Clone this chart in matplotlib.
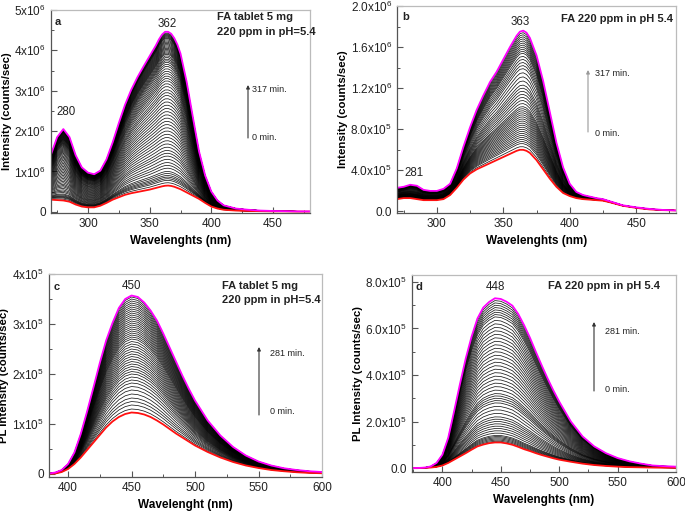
import numpy as np
import matplotlib
matplotlib.use("Agg")
import matplotlib.pyplot as plt
from matplotlib.ticker import MultipleLocator
from matplotlib.patches import FancyArrowPatch

plt.rcParams['font.family'] = ['Liberation Sans', 'DejaVu Sans']
plt.rcParams['mathtext.fontset'] = 'custom'
plt.rcParams['mathtext.rm'] = 'Liberation Sans'
plt.rcParams['mathtext.bf'] = 'Liberation Sans:bold'
plt.rcParams['mathtext.default'] = 'regular'

# ---------------- Panel a (tablet) ----------------
wl_a = [270, 275, 280, 285, 290, 295, 300, 305, 310, 315, 320, 325, 330, 335, 340, 345,
        350, 355, 357.5, 360, 362.5, 365, 367.5, 370, 372.5, 375, 380, 385, 390, 395, 400,
        405, 410, 420, 430, 440, 450, 460, 470, 480]
red_a = [0.30, 0.29, 0.28, 0.25, 0.18, 0.13, 0.11, 0.11, 0.15, 0.22, 0.30, 0.36, 0.42, 0.46,
         0.49, 0.52, 0.55, 0.59, 0.61, 0.63, 0.645, 0.65, 0.64, 0.62, 0.59, 0.56, 0.48, 0.40,
         0.32, 0.22, 0.13, 0.08, 0.05, 0.03, 0.02, 0.015, 0.01, 0.01, 0.005, 0.005]
mag_a = [1.42, 1.85, 2.05, 1.85, 1.40, 1.10, 0.97, 0.93, 1.02, 1.30, 1.72, 2.20, 2.65, 3.02,
         3.33, 3.60, 3.86, 4.12, 4.27, 4.39, 4.46, 4.46, 4.41, 4.30, 4.14, 3.92, 3.22, 2.35,
         1.50, 0.90, 0.50, 0.28, 0.16, 0.08, 0.05, 0.03, 0.02, 0.015, 0.01, 0.01]
peaks_a = [0.65, 0.72, 0.78, 0.82, 0.86, 0.90, 0.95, 1.00, 1.08, 1.15, 1.22, 1.30, 1.38, 1.45,
           1.52, 1.60, 1.68, 1.76, 1.84, 1.92, 2.00, 2.08, 2.16, 2.24, 2.32, 2.40, 2.48, 2.56,
           2.64, 2.72, 2.80, 2.88, 2.95, 3.02, 3.10, 3.17, 3.24, 3.30, 3.36, 3.42, 3.48, 3.54,
           3.60, 3.65, 3.70, 3.74, 3.78, 3.82, 3.86, 3.90, 3.93, 3.96, 3.99, 4.02, 4.05, 4.08,
           4.11, 4.14, 4.17, 4.20, 4.23, 4.26, 4.29, 4.31, 4.33, 4.35, 4.37, 4.39, 4.41, 4.43,
           4.46]
yticks_a = [0, 1e6, 2e6, 3e6, 4e6, 5e6]
ylabels_a = ['0', '1x10$^{6}$', '2x10$^{6}$', '3x10$^{6}$', '4x10$^{6}$', '5x10$^{6}$']

# ---------------- Panel b ----------------
wl_b = [270, 275, 280, 285, 290, 295, 300, 305, 310, 315, 320, 325, 330, 335, 340, 345,
        350, 355, 360, 362.5, 365, 367.5, 370, 375, 380, 385, 390, 395, 400, 405, 410, 420,
        425, 430, 440, 450, 460, 470, 480]
red_b = [0.12, 0.13, 0.13, 0.12, 0.11, 0.11, 0.11, 0.12, 0.16, 0.23, 0.31, 0.37, 0.41, 0.44,
         0.47, 0.50, 0.53, 0.56, 0.59, 0.60, 0.60, 0.59, 0.57, 0.50, 0.41, 0.32, 0.24, 0.18,
         0.15, 0.13, 0.12, 0.11, 0.105, 0.09, 0.055, 0.035, 0.02, 0.013, 0.01]
mag_b = [0.23, 0.24, 0.26, 0.25, 0.21, 0.20, 0.20, 0.22, 0.27, 0.42, 0.63, 0.82, 0.99, 1.13,
         1.26, 1.36, 1.48, 1.60, 1.71, 1.75, 1.76, 1.74, 1.69, 1.52, 1.27, 0.97, 0.67, 0.43,
         0.27, 0.19, 0.16, 0.13, 0.12, 0.10, 0.06, 0.04, 0.025, 0.015, 0.01]
peaks_b = [0.60, 0.63, 0.66, 0.68, 0.70, 0.72, 0.74, 0.76, 0.78, 0.80, 0.82, 0.84, 0.86, 0.88,
           0.90, 0.92, 0.94, 0.96, 0.98, 1.00, 1.02, 1.05, 1.08, 1.11, 1.14, 1.17, 1.20, 1.23,
           1.27, 1.31, 1.35, 1.39, 1.42, 1.45, 1.48, 1.51, 1.54, 1.56, 1.58, 1.60, 1.62, 1.64,
           1.66, 1.68, 1.70, 1.72, 1.74, 1.76]
yticks_b = [0, 0.4e6, 0.8e6, 1.2e6, 1.6e6, 2.0e6]
ylabels_b = ['0.0', '4.0x10$^{5}$', '8.0x10$^{5}$', '1.2x10$^{6}$', '1.6x10$^{6}$', '2.0x10$^{6}$']

# ---------------- Panel c (PL, tablet) ----------------
wl_c = [385, 390, 395, 400, 405, 410, 415, 420, 425, 430, 435, 440, 445, 450, 455, 460, 465,
        470, 475, 480, 485, 490, 495, 500, 510, 520, 530, 540, 550, 560, 570, 580, 590, 600]
red_c = [0.005, 0.01, 0.04, 0.10, 0.20, 0.33, 0.48, 0.63, 0.78, 0.93, 1.05, 1.14, 1.20, 1.23,
         1.22, 1.19, 1.14, 1.07, 0.99, 0.90, 0.81, 0.73, 0.65, 0.57, 0.44, 0.33, 0.24, 0.17,
         0.12, 0.08, 0.055, 0.035, 0.022, 0.015]
mag_c = [0.01, 0.03, 0.08, 0.20, 0.43, 0.80, 1.25, 1.73, 2.22, 2.67, 3.02, 3.32, 3.50, 3.57,
         3.54, 3.43, 3.27, 3.07, 2.81, 2.53, 2.25, 1.97, 1.71, 1.47, 1.07, 0.77, 0.54, 0.37,
         0.25, 0.17, 0.115, 0.08, 0.055, 0.04]
peaks_c = [1.23, 1.30, 1.38, 1.45, 1.52, 1.60, 1.68, 1.75, 1.82, 1.88, 1.94, 2.00, 2.05, 2.10,
           2.15, 2.20, 2.25, 2.30, 2.35, 2.40, 2.45, 2.50, 2.55, 2.60, 2.65, 2.70, 2.74, 2.78,
           2.82, 2.86, 2.90, 2.94, 2.98, 3.02, 3.06, 3.10, 3.14, 3.18, 3.22, 3.26, 3.30, 3.34,
           3.38, 3.42, 3.46, 3.50, 3.54, 3.57]
yticks_c = [0, 1e5, 2e5, 3e5, 4e5]
ylabels_c = ['0', '1x10$^{5}$', '2x10$^{5}$', '3x10$^{5}$', '4x10$^{5}$']

# ---------------- Panel d (PL) ----------------
wl_d = [375, 380, 385, 390, 395, 400, 405, 410, 415, 420, 425, 430, 435, 440, 445, 450, 455,
        460, 465, 470, 475, 480, 485, 490, 495, 500, 510, 520, 530, 540, 550, 560, 570, 580,
        590, 600]
red_d = [0.0, 0.0, 0.01, 0.02, 0.05, 0.11, 0.22, 0.36, 0.50, 0.64, 0.79, 0.93, 1.01, 1.07,
         1.10, 1.10, 1.06, 1.00, 0.91, 0.81, 0.73, 0.64, 0.56, 0.49, 0.42, 0.36, 0.27, 0.19,
         0.13, 0.09, 0.06, 0.04, 0.03, 0.02, 0.015, 0.01]
mag_d = [0.0, 0.005, 0.02, 0.07, 0.22, 0.57, 1.30, 2.43, 3.60, 4.71, 5.65, 6.43, 6.90, 7.14,
         7.30, 7.27, 7.15, 6.98, 6.62, 6.14, 5.60, 5.00, 4.42, 3.86, 3.34, 2.86, 2.00, 1.36,
         0.93, 0.64, 0.43, 0.29, 0.19, 0.11, 0.08, 0.06]
peaks_d = [1.10, 1.15, 1.20, 1.25, 1.30, 1.35, 1.40, 1.50, 1.60, 1.70, 1.80, 1.90, 2.00, 2.10,
           2.20, 2.35, 2.50, 2.65, 2.80, 2.90, 3.00, 3.10, 3.20, 3.35, 3.50, 3.65, 3.80, 3.95,
           4.10, 4.25, 4.40, 4.55, 4.70, 4.85, 5.00, 5.15, 5.30, 5.45, 5.60, 5.75, 5.90, 6.05,
           6.20, 6.35, 6.50, 6.60, 6.70, 6.80, 6.90, 7.00, 7.10, 7.20, 7.30]
yticks_d = [0, 2e5, 4e5, 6e5, 8e5]
ylabels_d = ['0.0', '2.0x10$^{5}$', '4.0x10$^{5}$', '6.0x10$^{5}$', '8.0x10$^{5}$']

W, H = 685, 513
fig = plt.figure(figsize=(W / 100, H / 100), dpi=100)


def rect(l, t, r, b):
    return [l / W, 1 - b / H, (r - l) / W, (b - t) / H]


def fp(x, y):
    return (x / W, 1 - y / H)


def panel(ax, wl, first, last, peaks, scale, xlim, ylim, xt, yt, ylabs, ymin, xlabel, ylabel):
    wl = np.asarray(wl, float)
    f0 = np.asarray(first) * scale
    f1 = np.asarray(last) * scale
    p0, p1 = f0.max(), f1.max()
    for p in peaks[1:-1]:
        fr = (p * scale - p0) / (p1 - p0)
        ax.plot(wl, f0 + fr * (f1 - f0), color='black', lw=0.55, alpha=0.9)
    ax.plot(wl, f0, color='#ff1010', lw=1.3)
    ax.plot(wl, f1, color='#ff00ff', lw=1.3)
    ax.set_xlim(*xlim)
    ax.set_ylim(*ylim)
    ax.set_xticks(xt)
    ax.xaxis.set_minor_locator(MultipleLocator(25))
    ax.set_yticks(yt)
    ax.set_yticklabels(ylabs)
    ax.yaxis.set_minor_locator(MultipleLocator(ymin))
    ax.tick_params(which='both', direction='in', colors='#555555', labelcolor='#222222',
                   labelsize=8.5)
    ax.tick_params(which='major', length=4, width=0.8)
    ax.tick_params(which='minor', length=2, width=0.7)
    for s in ['left', 'bottom']:
        ax.spines[s].set_color('#555555')
        ax.spines[s].set_linewidth(0.9)
    for s in ['top', 'right']:
        ax.spines[s].set_color('#bbbbbb')
        ax.spines[s].set_linewidth(0.9)
    ax.set_xlabel(xlabel, fontsize=8.5, fontweight='bold', labelpad=4)
    ax.set_ylabel(ylabel, fontsize=8.2, fontweight='bold', labelpad=2)


axa = fig.add_axes(rect(51, 10, 310, 213))
panel(axa, wl_a, red_a, mag_a, peaks_a, 1e6, (270, 480), (-0.03e6, 5e6), [300, 350, 400, 450],
      yticks_a, ylabels_a, 0.5e6, 'Wavelenghts (nm)', 'Intensity (counts/sec)')
axb = fig.add_axes(rect(397, 6, 676, 213))
panel(axb, wl_b, red_b, mag_b, peaks_b, 1e6, (270, 480), (-0.015e6, 2.0e6), [300, 350, 400, 450],
      yticks_b, ylabels_b, 0.2e6, 'Wavelenghts (nm)', 'Intensity (counts/sec)')
axc = fig.add_axes(rect(49, 274, 322, 477))
panel(axc, wl_c, red_c, mag_c, peaks_c, 1e5, (385, 600), (-0.06e5, 4e5), [400, 450, 500, 550, 600],
      yticks_c, ylabels_c, 0.5e5, 'Wavelenght (nm)', 'PL Intensity (counts/sec)')
axd = fig.add_axes(rect(412, 275, 676, 472))
panel(axd, wl_d, red_d, mag_d, peaks_d, 1e5, (374, 600), (-0.17e5, 8.3e5), [400, 450, 500, 550, 600],
      yticks_d, ylabels_d, 1e5, 'Wavelenghts (nm)', 'PL Intensity (counts/sec)')

bold = dict(fontsize=8, fontweight='bold', color='#222222')
small = dict(fontsize=6.5, color='#222222', va='center', ha='left')
peakfs = dict(fontsize=8.3, color='#222222', va='center', ha='center')

# panel letters
fig.text(*fp(55, 22), 'a', va='center', ha='left', **bold)
fig.text(*fp(402, 17), 'b', va='center', ha='left', **bold)
fig.text(*fp(54, 287), 'c', va='center', ha='left', **bold)
fig.text(*fp(416, 287), 'd', va='center', ha='left', **bold)

# sample descriptions
fig.text(*fp(217, 17), 'FA tablet 5 mg', va='center', ha='left', **bold)
fig.text(*fp(217, 32), '220 ppm in pH=5.4', va='center', ha='left', **bold)
fig.text(*fp(673, 19), 'FA 220 ppm in pH 5.4', va='center', ha='right', **bold)
fig.text(*fp(222, 286), 'FA tablet 5 mg', va='center', ha='left', **bold)
fig.text(*fp(222, 300), '220 ppm in pH=5.4', va='center', ha='left', **bold)
fig.text(*fp(660, 286), 'FA 220 ppm in pH 5.4', va='center', ha='right', **bold)

# peak labels
fig.text(*fp(167, 24), '362', **peakfs)
fig.text(*fp(66, 112), '280', **peakfs)
fig.text(*fp(520, 22), '363', **peakfs)
fig.text(*fp(414, 173), '281', **peakfs)
fig.text(*fp(132, 286), '450', **peakfs)
fig.text(*fp(495, 287), '448', **peakfs)


# time arrows
def tarrow(x, y0, y1, col, top_lab, tx, ty_top, ty_bot):
    arr = FancyArrowPatch(fp(x, y0), fp(x, y1), transform=fig.transFigure,
                          arrowstyle='-|>', mutation_scale=5, lw=0.8, color=col,
                          shrinkA=0, shrinkB=0)
    fig.add_artist(arr)
    fig.text(*fp(tx, ty_top), top_lab, **small)
    fig.text(*fp(tx, ty_bot), '0 min.', **small)


tarrow(248, 138, 85, '#333333', '317 min.', 252, 90, 137)
tarrow(588, 132, 70, '#999999', '317 min.', 595, 73, 133)
tarrow(259, 415, 347, '#333333', '281 min.', 270, 354, 411)
tarrow(594, 391, 322, '#333333', '281 min.', 605, 332, 390)

fig.savefig('out.png', dpi=100)
